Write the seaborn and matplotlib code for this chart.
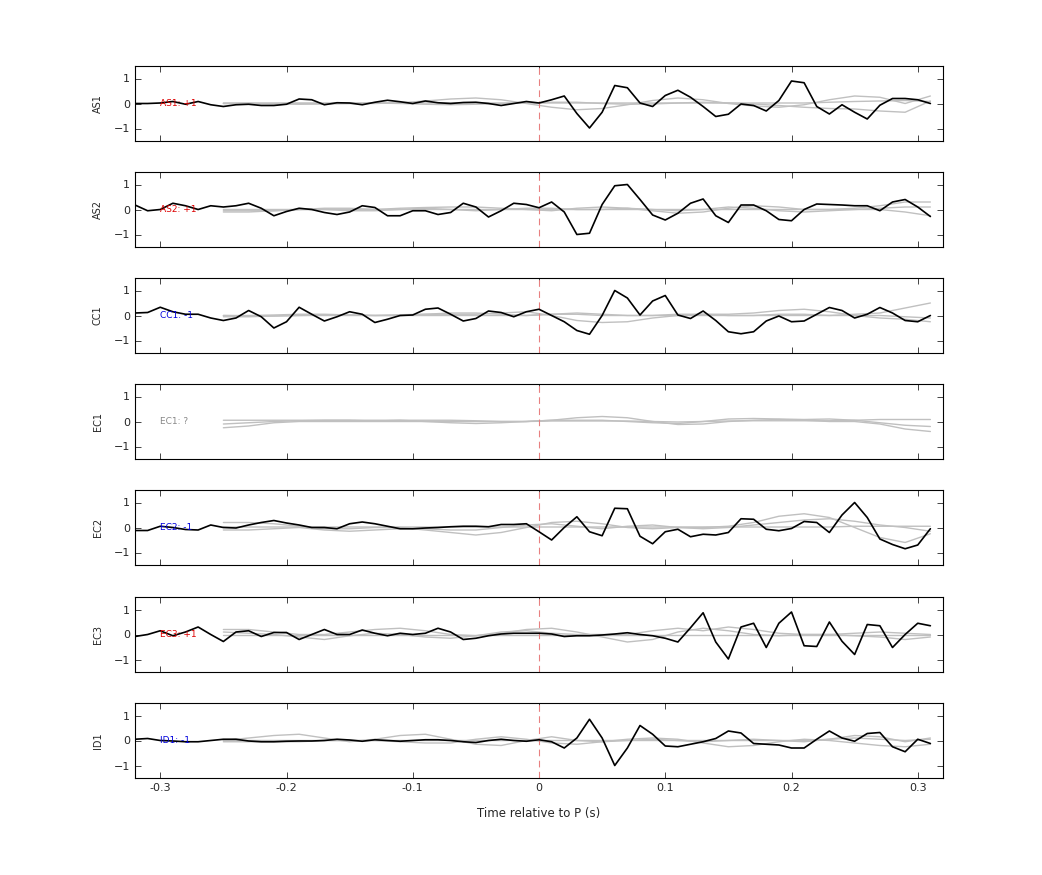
import numpy as np
import matplotlib
matplotlib.use("Agg")
import matplotlib.pyplot as plt
import seaborn as sns

sns.set_theme(style="white")
plt.rcParams['font.family'] = ['DejaVu Sans']

stations = ["AS1", "AS2", "CC1", "EC1", "EC2", "EC3", "ID1"]
labels = ["AS1: +1", "AS2: +1", "CC1: -1", "EC1: ?", "EC2: -1", "EC3: +1", "ID1: -1"]
label_colors = ["#dd0000", "#dd0000", "#0000dd", "#888888", "#0000dd", "#dd0000", "#0000dd"]

t_black = np.round(np.arange(-0.32, 0.315, 0.01), 2)
t_gray = np.round(np.arange(-0.25, 0.315, 0.02), 2)

AS1 = [0, 0, 0.02, 0.08, -0.03, 0.08, -0.05, -0.12, -0.05, -0.03, -0.08, -0.08, -0.03, 0.18, 0.15, -0.05,
       0.03, 0.02, -0.05, 0.05, 0.13, 0.07, 0.0, 0.1, 0.03, 0.0, 0.04, 0.05, 0.0, -0.08, 0.0, 0.08,
       0.02, 0.15, 0.3, -0.4, -0.98, -0.35, 0.72, 0.63, 0.02, -0.12, 0.32, 0.53, 0.25, -0.12, -0.52, -0.43,
       -0.02, -0.08, -0.3, 0.12, 0.9, 0.83, -0.12, -0.42, -0.05, -0.35, -0.62, -0.07, 0.2, 0.2, 0.15, 0.0]
AS2 = [0.18, -0.05, 0.0, 0.25, 0.15, 0.0, 0.15, 0.1, 0.15, 0.25, 0.05, -0.25, -0.08, 0.05, 0.0, -0.12,
       -0.2, -0.1, 0.15, 0.08, -0.25, -0.25, -0.05, -0.05, -0.2, -0.12, 0.25, 0.1, -0.3, -0.05, 0.25, 0.2,
       0.07, 0.3, -0.1, -1.0, -0.95, 0.2, 0.95, 1.0, 0.4, -0.22, -0.42, -0.15, 0.25, 0.42, -0.25, -0.52,
       0.18, 0.18, -0.05, -0.4, -0.45, 0.0, 0.22, 0.2, 0.18, 0.15, 0.15, -0.05, 0.3, 0.4, 0.1, -0.28]
CC1 = [0.1, 0.12, 0.33, 0.15, 0.05, 0.05, -0.1, -0.2, -0.1, 0.2, -0.05, -0.5, -0.25, 0.33, 0.05, -0.22,
       -0.05, 0.15, 0.05, -0.28, -0.15, 0.0, 0.02, 0.25, 0.3, 0.05, -0.22, -0.12, 0.18, 0.12, -0.05, 0.15,
       0.25, 0.0, -0.25, -0.6, -0.75, 0.0, 1.0, 0.7, 0.02, 0.58, 0.8, 0.02, -0.12, 0.18, -0.2, -0.65,
       -0.73, -0.65, -0.22, -0.02, -0.25, -0.22, 0.05, 0.32, 0.2, -0.1, 0.05, 0.32, 0.1, -0.2, -0.25, 0.0]
EC2 = [-0.12, -0.12, 0.05, 0.0, -0.08, -0.1, 0.1, 0.0, -0.02, 0.1, 0.2, 0.28, 0.18, 0.1, 0.0, 0.0,
       -0.05, 0.15, 0.22, 0.15, 0.05, -0.05, -0.05, -0.02, 0.0, 0.03, 0.05, 0.05, 0.03, 0.12, 0.12, 0.15,
       -0.17, -0.5, 0.0, 0.43, -0.17, -0.33, 0.77, 0.75, -0.35, -0.65, -0.17, -0.07, -0.37, -0.27, -0.3, -0.2,
       0.35, 0.33, -0.07, -0.13, -0.04, 0.24, 0.2, -0.2, 0.5, 1.0, 0.4, -0.46, -0.68, -0.85, -0.7, -0.05]
EC3 = [-0.08, 0.0, 0.15, -0.05, 0.1, 0.3, 0.0, -0.28, 0.1, 0.15, -0.08, 0.08, 0.08, -0.2, 0.0, 0.2,
       0.0, 0.0, 0.18, 0.05, -0.05, 0.05, 0.0, 0.05, 0.25, 0.1, -0.2, -0.15, -0.05, 0.02, 0.05, 0.05,
       0.05, 0.02, -0.08, -0.05, -0.05, -0.02, 0.02, 0.07, 0.0, -0.05, -0.15, -0.3, 0.27, 0.87, -0.3, -0.98,
       0.3, 0.45, -0.52, 0.45, 0.9, -0.45, -0.48, 0.5, -0.27, -0.8, 0.4, 0.35, -0.52, 0.0, 0.45, 0.35]
ID1 = [0.05, 0.08, 0.0, -0.02, -0.05, -0.05, 0.0, 0.05, 0.05, -0.02, -0.05, -0.05, -0.03, -0.02, -0.02, 0.0,
       0.05, 0.02, -0.03, 0.03, 0.0, -0.03, 0.0, 0.03, 0.03, 0.0, -0.05, -0.08, 0.0, 0.05, 0.0, -0.03,
       0.03, -0.05, -0.3, 0.1, 0.85, 0.1, -1.0, -0.3, 0.6, 0.25, -0.22, -0.25, -0.15, -0.05, 0.08, 0.38,
       0.3, -0.12, -0.15, -0.18, -0.3, -0.3, 0.05, 0.38, 0.1, -0.03, 0.28, 0.32, -0.25, -0.45, 0.05, -0.12]
black = {"AS1": AS1, "AS2": AS2, "CC1": CC1, "EC1": None, "EC2": EC2, "EC3": EC3, "ID1": ID1}

# gray (synthetic-like) traces, sampled every 0.02 s from -0.25 s
G_AS1 = [[0, 0, 0, 0, 0, 0, 0, 0.03, 0.1, 0.18, 0.22, 0.15, 0.0, -0.15, -0.25, -0.2, -0.05, 0.12, 0.22, 0.15, 0.0, -0.1, -0.15, -0.05, 0.15, 0.3, 0.25, 0.0, 0.3],
         [0, 0, -0.02, -0.03, -0.02, 0, 0.02, 0.0, -0.03, -0.05, -0.03, 0.0, 0.02, 0.05, 0.05, 0.0, -0.03, -0.02, 0.02, 0.05, 0.02, -0.02, -0.08, -0.15, -0.2, -0.22, -0.3, -0.35, 0.1],
         [0.02, 0.02, 0.02, 0.02, 0.02, 0.02, 0.02, 0.02, 0.02, 0.02, 0.02, 0.02, 0.02, 0.02, 0.02, 0.02, 0.02, 0.02, 0.02, 0.02, 0.02, 0.02, 0.02, 0.02, 0.05, 0.08, 0.1, 0.12, 0.08]]
G_AS2 = [[-0.1, -0.1, -0.05, 0.0, 0.05, 0.05, 0.0, 0.05, 0.08, 0.1, 0.1, 0.05, 0.0, -0.05, 0.05, 0.1, 0.05, -0.05, -0.15, -0.1, 0.05, 0.15, 0.1, 0.0, 0.0, 0.05, 0.15, 0.3, 0.3],
         [-0.05, -0.05, -0.05, 0.0, 0.0, -0.05, -0.05, 0.0, 0.05, 0.0, -0.05, 0.0, 0.05, 0.05, 0.0, 0.0, 0.05, 0.0, -0.05, 0.0, 0.1, 0.05, -0.05, -0.1, -0.05, 0.0, 0.0, -0.1, -0.25],
         [0.0, 0.0, 0.0, 0.0, 0.0, 0.0, 0.0, 0.0, 0.0, 0.0, 0.0, 0.0, 0.0, 0.0, 0.0, 0.0, 0.0, 0.0, 0.0, 0.0, 0.0, 0.0, 0.0, 0.0, 0.0, 0.0, 0.05, 0.1, 0.1]]
G_CC1 = [[-0.05, -0.05, -0.02, 0.0, 0.02, 0.02, 0.0, 0.03, 0.05, 0.05, 0.05, 0.1, 0.15, 0.0, -0.2, -0.28, -0.25, -0.1, 0.0, 0.05, 0.05, 0.1, 0.2, 0.25, 0.15, 0.0, -0.1, -0.15, -0.25],
         [0.0, 0.0, 0.02, 0.05, 0.05, 0.02, 0.0, 0.0, 0.05, 0.1, 0.1, 0.05, 0.0, 0.05, 0.1, 0.05, 0.0, 0.0, 0.05, 0.05, 0.0, 0.0, 0.05, 0.05, 0.0, 0.05, 0.1, 0.3, 0.5],
         [0.0, -0.02, -0.02, 0.0, 0.0, 0.0, 0.0, 0.0, 0.0, 0.0, 0.0, 0.0, 0.0, 0.05, 0.05, 0.0, 0.0, 0.0, 0.0, 0.0, 0.0, 0.0, 0.0, 0.0, 0.0, 0.0, 0.0, -0.05, -0.1]]
G_EC1 = [[-0.25, -0.18, -0.05, 0.0, 0.0, 0.0, 0.0, 0.0, 0.0, 0.0, 0.0, 0.0, 0.0, 0.05, 0.15, 0.2, 0.15, 0.0, -0.12, -0.1, 0.0, 0.05, 0.08, 0.05, 0.0, 0.0, -0.1, -0.3, -0.4],
         [-0.1, -0.05, 0.0, 0.03, 0.05, 0.05, 0.02, 0.05, 0.0, -0.05, -0.08, -0.05, 0.0, 0.05, 0.05, 0.05, 0.0, -0.05, -0.08, 0.0, 0.1, 0.12, 0.1, 0.08, 0.1, 0.05, -0.05, -0.15, -0.2],
         [0.05, 0.05, 0.05, 0.05, 0.05, 0.05, 0.05, 0.05, 0.05, 0.05, 0.03, 0.0, 0.0, 0.02, 0.02, 0.02, 0.02, 0.0, -0.02, 0.0, 0.02, 0.03, 0.03, 0.03, 0.03, 0.05, 0.08, 0.08, 0.08]]
G_EC2 = [[0.2, 0.2, 0.15, 0.05, -0.05, -0.05, 0.0, 0.0, -0.1, -0.2, -0.3, -0.2, 0.0, 0.2, 0.25, 0.15, 0.0, -0.05, 0.0, 0.0, 0.05, 0.2, 0.45, 0.55, 0.4, 0.0, -0.4, -0.6, -0.25],
         [-0.1, -0.1, -0.05, 0.0, -0.1, -0.15, -0.1, -0.05, -0.05, -0.1, -0.1, 0.0, 0.1, 0.15, 0.05, -0.05, 0.05, 0.1, 0.0, -0.05, 0.0, 0.1, 0.2, 0.3, 0.35, 0.25, 0.1, 0.0, -0.15],
         [0.02, 0.02, 0.02, 0.02, 0.02, 0.02, 0.02, 0.02, 0.02, 0.02, 0.02, 0.02, 0.02, 0.02, 0.02, 0.02, 0.02, 0.02, 0.02, 0.02, 0.02, 0.02, 0.02, 0.02, 0.02, 0.05, 0.05, 0.05, 0.05]]
G_EC3 = [[0.2, 0.2, 0.1, 0.0, 0.0, 0.1, 0.2, 0.25, 0.15, 0.0, -0.05, 0.05, 0.2, 0.25, 0.1, -0.1, -0.3, -0.2, 0.1, 0.25, 0.15, 0.0, -0.05, 0.0, 0.0, -0.05, -0.1, -0.2, -0.1],
         [0.1, 0.05, 0.0, -0.1, -0.2, -0.05, 0.05, 0.0, -0.1, -0.15, -0.05, 0.1, 0.15, 0.05, 0.0, 0.0, 0.0, 0.15, 0.25, 0.15, 0.3, 0.2, 0.05, 0.0, 0.0, 0.05, 0.1, 0.05, 0.0],
         [0.0, 0.0, 0.0, 0.0, 0.0, 0.0, 0.0, 0.0, 0.0, 0.0, 0.0, 0.0, 0.0, 0.0, 0.0, 0.0, 0.0, 0.0, 0.0, 0.0, 0.0, 0.0, 0.0, 0.0, 0.0, 0.0, 0.0, 0.0, 0.0]]
G_ID1 = [[0.0, 0.1, 0.2, 0.25, 0.1, -0.05, 0.05, 0.2, 0.25, 0.05, -0.15, -0.2, 0.0, 0.15, 0.0, -0.05, 0.0, 0.05, 0.0, -0.05, 0.0, 0.05, 0.0, -0.05, 0.05, 0.2, 0.15, -0.05, 0.1],
         [-0.05, -0.05, -0.05, -0.05, 0.0, 0.0, 0.0, -0.05, -0.1, -0.1, 0.05, 0.15, 0.05, -0.1, -0.15, -0.05, 0.05, 0.1, 0.05, -0.1, -0.25, -0.2, -0.05, 0.05, 0.0, -0.1, -0.2, -0.25, -0.15],
         [0.0, 0.0, 0.0, 0.0, 0.0, 0.0, 0.0, 0.0, 0.0, 0.0, 0.0, 0.0, 0.0, 0.0, 0.0, 0.0, 0.0, 0.0, 0.0, 0.0, 0.0, 0.0, 0.0, 0.0, 0.05, 0.1, 0.05, 0.0, 0.05]]
gray = {"AS1": G_AS1, "AS2": G_AS2, "CC1": G_CC1, "EC1": G_EC1, "EC2": G_EC2, "EC3": G_EC3, "ID1": G_ID1}

fig = plt.figure(figsize=(10.42, 8.75), dpi=100)
W, H = 1042, 875
tops = [66, 172, 278, 384, 490, 597, 703]
ph = 75
for i, st in enumerate(stations):
    ax = fig.add_axes([135 / W, 1 - (tops[i] + ph) / H, 808 / W, ph / H])
    for g in gray[st]:
        sns.lineplot(x=t_gray, y=g, ax=ax, color="#c0c0c0", lw=1.0)
    ax.axvline(0, color="#e88080", lw=0.8, ls=(0, (6, 4)))
    if black[st] is not None:
        sns.lineplot(x=t_black, y=black[st], ax=ax, color="black", lw=1.2)
    ax.text(-0.3, 0, labels[i], color=label_colors[i], fontsize=6.5, va="center", ha="left")
    ax.set_xlim(-0.32, 0.32)
    ax.set_ylim(-1.5, 1.5)
    ax.set_yticks([-1, 0, 1])
    ax.set_xticks([-0.3, -0.2, -0.1, 0, 0.1, 0.2, 0.3])
    ax.tick_params(direction="in", length=4, labelsize=8, top=True, right=True,
                   bottom=True, left=True, width=0.6)
    if i < len(stations) - 1:
        ax.set_xticklabels([])
    else:
        ax.set_xticklabels(["-0.3", "-0.2", "-0.1", "0", "0.1", "0.2", "0.3"])
        ax.set_xlabel("Time relative to P (s)", fontsize=8.5, labelpad=10)
    ax.set_ylabel(st, fontsize=7, labelpad=8)
    for s in ax.spines.values():
        s.set_color("black")
        s.set_linewidth(0.8)

fig.savefig("out.png", dpi=100)
